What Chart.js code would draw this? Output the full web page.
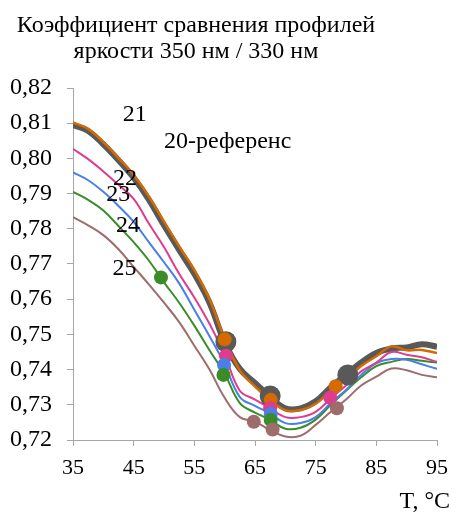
<!DOCTYPE html>
<html>
<head>
<meta charset="utf-8">
<script src="https://cdn.jsdelivr.net/npm/chart.js@4.4.0/dist/chart.umd.min.js"></script>
<style>
  html, body { margin: 0; padding: 0; background: #fff; }
  #wrap { width: 457px; height: 513px; }
</style>
</head>
<body>
<div id="wrap"><canvas id="line-chart" width="457" height="513"></canvas></div>
<script>
// temperature, °C
var temps = [35, 37.5, 40, 42.5, 45, 47.5, 50, 52.5, 55, 57.5, 60, 62.5, 65, 67.5, 70, 72.5, 75, 77.5, 80, 82.5, 85, 87.5, 90, 92.5, 95];

var ref20 = [0.8095, 0.8078, 0.804, 0.7995, 0.7945, 0.7883, 0.781, 0.774, 0.7672, 0.759, 0.7478, 0.7402, 0.7362, 0.7322, 0.729, 0.729, 0.731, 0.735, 0.7385, 0.742, 0.7447, 0.746, 0.7463, 0.7472, 0.7465];
var s21 = [0.8102, 0.8084, 0.8046, 0.8001, 0.7953, 0.7892, 0.782, 0.775, 0.7683, 0.76, 0.7487, 0.7398, 0.7352, 0.7314, 0.7285, 0.7285, 0.7303, 0.734, 0.7372, 0.741, 0.7438, 0.7466, 0.7455, 0.7456, 0.7447];
var s22 = [0.8027, 0.7998, 0.7963, 0.7925, 0.7885, 0.7815, 0.7748, 0.7672, 0.7605, 0.753, 0.7442, 0.734, 0.7315, 0.729, 0.7265, 0.7265, 0.728, 0.7318, 0.7355, 0.7395, 0.742, 0.745, 0.7442, 0.7435, 0.7422];
var s23 = [0.796, 0.7938, 0.7905, 0.7865, 0.782, 0.7762, 0.7705, 0.7645, 0.757, 0.7495, 0.7415, 0.7322, 0.7297, 0.7275, 0.7248, 0.7248, 0.7265, 0.7305, 0.7342, 0.7385, 0.7418, 0.743, 0.7428, 0.7415, 0.7402];
var s24 = [0.7905, 0.7882, 0.7852, 0.7808, 0.7762, 0.771, 0.7648, 0.759, 0.7525, 0.7455, 0.7388, 0.7305, 0.7278, 0.7257, 0.7232, 0.7235, 0.7258, 0.73, 0.734, 0.7378, 0.741, 0.7422, 0.743, 0.7425, 0.742];
var s25 = [0.7833, 0.781, 0.7782, 0.7742, 0.7692, 0.7642, 0.759, 0.7535, 0.7468, 0.74, 0.732, 0.7265, 0.7252, 0.7228, 0.721, 0.7212, 0.7243, 0.728, 0.7315, 0.7355, 0.738, 0.7403, 0.7398, 0.7385, 0.7378];

// marked points
var ref20MarkT = [60.2, 67.5, 80.3], ref20MarkV = [0.7479, 0.7325, 0.7385];
var s21MarkT = [60, 67.6, 78.3], s21MarkV = [0.7486, 0.7314, 0.7353];
var s22MarkT = [60.2, 67.5, 77.4], s22MarkV = [0.7439, 0.729, 0.732];
var s23MarkT = [59.9, 67.6], s23MarkV = [0.7413, 0.7274];
var s24MarkT = [49.5, 59.8, 67.6], s24MarkV = [0.7662, 0.7385, 0.7257];
var s25MarkT = [64.8, 67.9, 78.5], s25MarkV = [0.7252, 0.723, 0.729];

var titleLines = ["Коэффициент сравнения профилей", "яркости 350 нм / 330 нм"];
var noteText = ["21", "20-референс", "22", "23", "24", "25"];
var noteT = [43.2, 50, 41.6, 40.5, 42.1, 41.5];
var noteV = [0.8123, 0.8047, 0.7941, 0.7896, 0.7808, 0.7686];

var serif = '"Liberation Serif", "Times New Roman", "DejaVu Serif", serif';

function pts(xs, ys) {
  return xs.map(function(t, i) { return {x: t, y: ys[i]}; });
}
function lineSet(label, arr, color, width, order) {
  return {type: 'line', label: label, data: pts(temps, arr), borderColor: color, borderWidth: width,
    pointRadius: 0, fill: false, tension: 0.4, order: order};
}
function markSet(label, xs, ys, color, r, order) {
  return {type: 'scatter', label: label, data: pts(xs, ys), backgroundColor: color, borderWidth: 0,
    pointRadius: r, pointHoverRadius: r, showLine: false, order: order};
}

var textPlugin = {
  id: 'texts',
  afterDraw: function(chart) {
    var ctx = chart.ctx, xs = chart.scales.x, ys = chart.scales.y;
    ctx.save();
    ctx.fillStyle = '#000';
    ctx.font = '24px ' + serif;
    ctx.textAlign = 'center';
    ctx.textBaseline = 'alphabetic';
    ctx.fillText(titleLines[0], 196, 32);
    ctx.fillText(titleLines[1], 196, 58);
    ctx.textAlign = 'left';
    ctx.textBaseline = 'middle';
    for (var i = 0; i < noteText.length; i++) {
      ctx.fillText(noteText[i], xs.getPixelForValue(noteT[i]), ys.getPixelForValue(noteV[i]));
    }
    ctx.textAlign = 'right';
    ctx.textBaseline = 'alphabetic';
    ctx.fillText('T, °C', 450, 508);
    ctx.restore();
  }
};

function draw() {
  new Chart(document.getElementById("line-chart"), {
    data: {
      datasets: [
        markSet('25 marks', s25MarkT, s25MarkV, '#9E6C6C', 7, 0),
        markSet('24 marks', s24MarkT, s24MarkV, '#3A8C28', 7, 1),
        markSet('23 marks', s23MarkT, s23MarkV, '#4A7EE8', 7, 2),
        markSet('22 marks', s22MarkT, s22MarkV, '#DE3C8C', 7, 3),
        markSet('21 marks', s21MarkT, s21MarkV, '#D46A00', 7, 4),
        markSet('20 marks', ref20MarkT, ref20MarkV, '#595959', 10.5, 5),
        lineSet('21', s21, '#D46A00', 2.5, 6),
        lineSet('22', s22, '#DE3C8C', 2, 7),
        lineSet('23', s23, '#4A7EE8', 2, 8),
        lineSet('24', s24, '#3A8C28', 2, 9),
        lineSet('25', s25, '#9E6C6C', 2, 10),
        lineSet('20-референс', ref20, '#595959', 6, 11)
      ]
    },
    options: {
      responsive: false,
      animation: false,
      devicePixelRatio: 1,
      layout: { padding: { top: 88, left: 0, right: 12, bottom: 0 } },
      plugins: { legend: { display: false }, tooltip: { enabled: false } },
      scales: {
        x: {
          type: 'linear', min: 35, max: 95,
          afterFit: function(s) { s.height = 73; },
          grid: { drawOnChartArea: false, color: '#A6A6A6', tickLength: 6 },
          border: { color: '#A6A6A6' },
          ticks: { stepSize: 10, padding: 9, color: '#000', font: { family: serif, size: 22 }, maxRotation: 0 }
        },
        y: {
          type: 'linear', min: 0.72, max: 0.82,
          afterFit: function(s) { s.width = 73; },
          grid: { drawOnChartArea: false, color: '#A6A6A6', tickLength: 6 },
          border: { color: '#A6A6A6' },
          ticks: {
            stepSize: 0.01, padding: 15, color: '#000', font: { family: serif, size: 24 },
            callback: function(v) { return v.toFixed(2).replace('.', ','); }
          }
        }
      }
    },
    plugins: [textPlugin]
  });
}

if (document.fonts && document.fonts.load) {
  document.fonts.load('21px "Liberation Serif"').then(draw, draw);
} else {
  draw();
}
</script>
</body>
</html>
